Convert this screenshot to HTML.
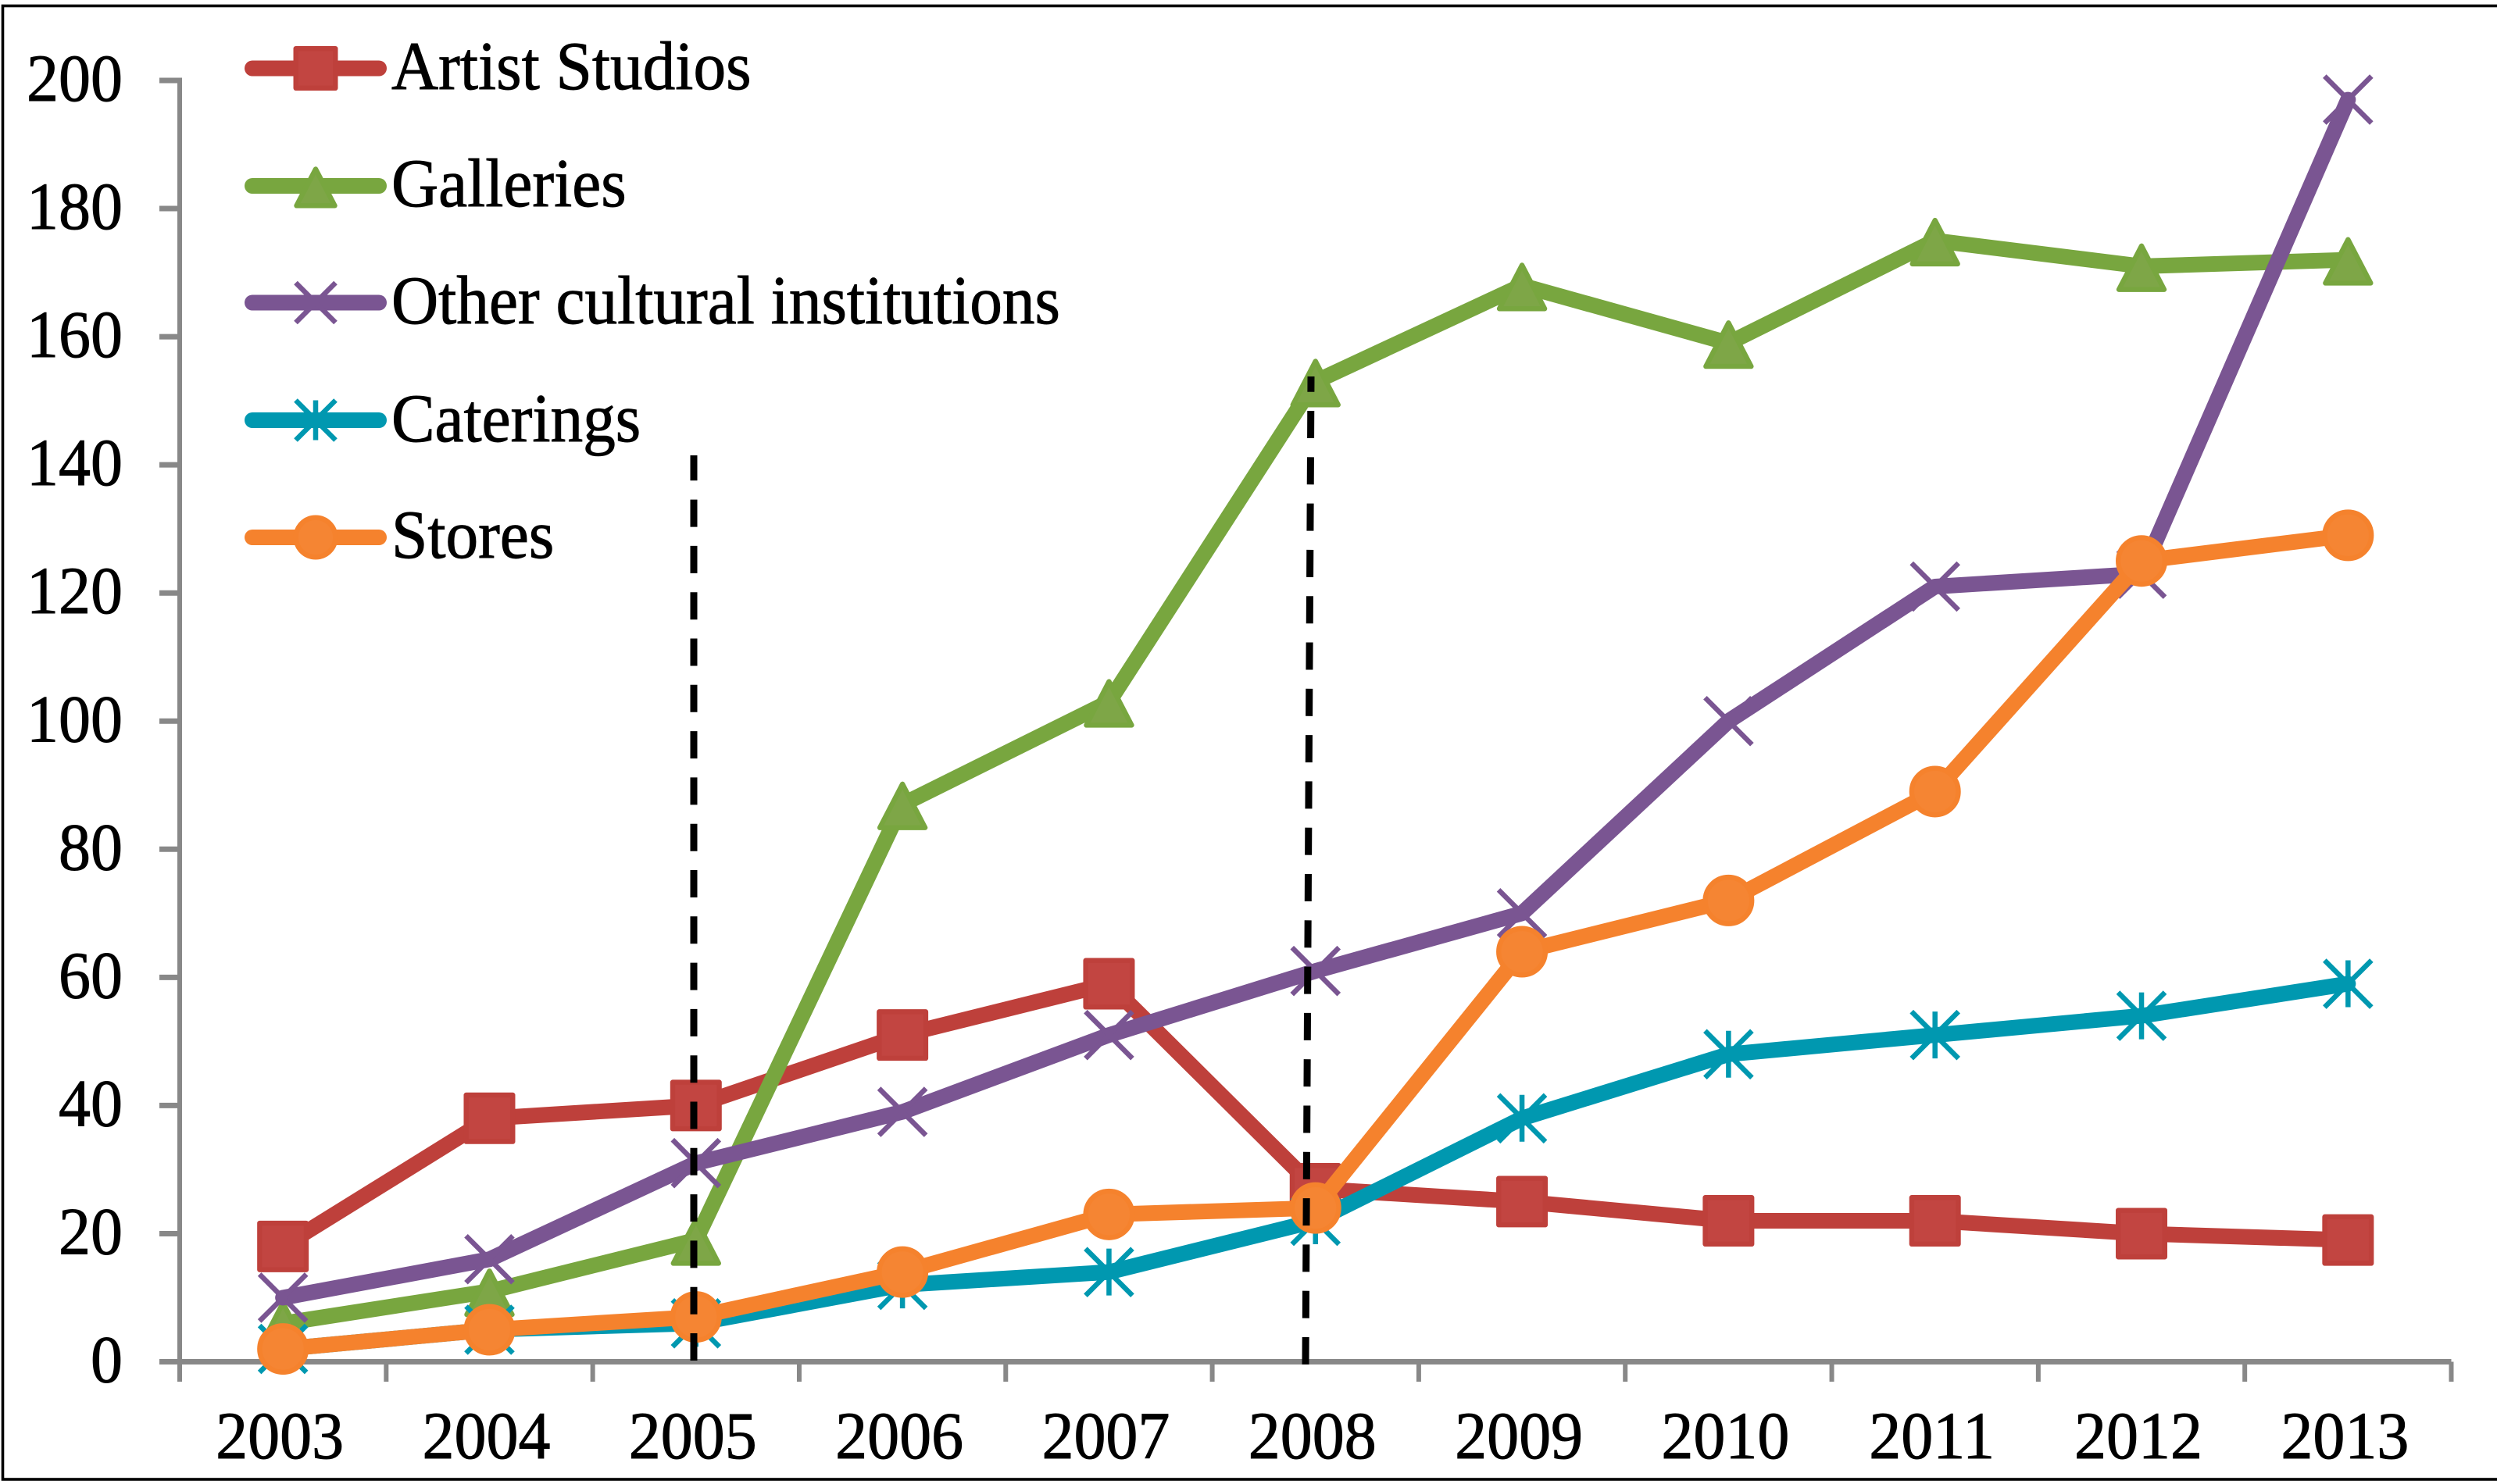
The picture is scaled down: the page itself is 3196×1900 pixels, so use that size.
<!DOCTYPE html>
<html lang="en">
<head>
<meta charset="utf-8">
<title>Cultural establishments 2003-2013</title>
<style>
html,body{margin:0;padding:0;background:#fff;width:3196px;height:1900px;overflow:hidden}
svg{display:block}
text{font-family:"Liberation Serif",serif;fill:#000;stroke:#000;stroke-width:0.9px}
</style>
</head>
<body>
<svg id="chart" xmlns="http://www.w3.org/2000/svg" width="3196" height="1900" viewBox="0 0 3196 1900">
  <rect x="0" y="0" width="3196" height="1900" fill="#fff"/>
  <rect x="3.5" y="7.5" width="3400" height="1886.5" fill="none" stroke="#000" stroke-width="3.6"/>
  <g id="axes"></g>
  <g id="series"></g>
  <g id="annotations">
    <line x1="888" y1="1742" x2="888" y2="583" stroke="#000" stroke-width="9" stroke-dasharray="35 24.3"/>
    <line x1="1671" y1="1747" x2="1678" y2="482" stroke="#000" stroke-width="9" stroke-dasharray="35 24.3"/>
  </g>
  <g id="legend">
    <g>
      <line x1="323" y1="87.5" x2="485" y2="87.5" stroke="#be403b" stroke-width="20" stroke-linecap="round"/>
      <g id="lm0"></g>
      <text transform="translate(501,114) scale(1,1.06)" font-size="83.3">Artist Studios</text>
    </g>
    <g>
      <line x1="323" y1="238" x2="485" y2="238" stroke="#78a63f" stroke-width="20" stroke-linecap="round"/>
      <g id="lm1"></g>
      <text transform="translate(501,264) scale(1,1.06)" font-size="83.3">Galleries</text>
    </g>
    <g>
      <line x1="323" y1="387.5" x2="485" y2="387.5" stroke="#7a5592" stroke-width="20" stroke-linecap="round"/>
      <g id="lm2"></g>
      <text transform="translate(501,414) scale(1,1.06)" font-size="83.3">Other cultural institutions</text>
    </g>
    <g>
      <line x1="323" y1="538" x2="485" y2="538" stroke="#0098b0" stroke-width="20" stroke-linecap="round"/>
      <g id="lm3"></g>
      <text transform="translate(501,565) scale(1,1.06)" font-size="83.3">Caterings</text>
    </g>
    <g>
      <line x1="323" y1="688" x2="485" y2="688" stroke="#f5822d" stroke-width="20" stroke-linecap="round"/>
      <g id="lm4"></g>
      <text transform="translate(501,714) scale(1,1.06)" font-size="83.3">Stores</text>
    </g>
  </g>
</svg>
<script>
var years = ['2003','2004','2005','2006','2007','2008','2009','2010','2011','2012','2013'];
var yTicks = [0,20,40,60,80,100,120,140,160,180,200];
var artistStudios = [18,38,40,51,59,27,25,22,22,20,19];
var galleries = [6,11,19,87,103,153,168,159,175,171,172];
var otherInstitutions = [10,16,31,39,51,61,70,100,121,123,197];
var caterings = [2,5,6,12,14,22,38,48,51,54,59];
var stores = [2,5,7,14,23,24,64,72,89,125,129];

var NS = 'http://www.w3.org/2000/svg';
var plotLeft = 230, plotRight = 3137.5, plotBottom = 1743.5, plotTop = 103, yMax = 200;
function xBand(){ return (plotRight - plotLeft) / years.length; }
function xScale(i){ return plotLeft + xBand() * (i + 0.5); }
function yScale(v){ return plotBottom - (plotBottom - plotTop) * v / yMax; }
function make(tag, attrs, parent){
  var el = document.createElementNS(NS, tag);
  for (var k in attrs) el.setAttribute(k, attrs[k]);
  parent.appendChild(el);
  return el;
}

function drawMarker(parent, kind, cx, cy, size, line, fill){
  var h = size / 2, inner = h - 3.2, el;
  if (kind === 'square') {
    el = make('rect', {x: cx - inner, y: cy - inner, width: inner * 2, height: inner * 2, fill: fill, stroke: line, 'stroke-width': 6.4, 'stroke-linejoin': 'round'}, parent);
    
    
  } else if (kind === 'triangle') {
    var pts = (cx) + ',' + (cy - h + 7) + ' ' + (cx + h - 4) + ',' + (cy + h - 3.2) + ' ' + (cx - h + 4) + ',' + (cy + h - 3.2);
    el = make('polygon', {points: pts, fill: fill, stroke: line, 'stroke-width': 6.4, 'stroke-linejoin': 'round'}, parent);
    
    
  } else if (kind === 'circle') {
    el = make('circle', {cx: cx, cy: cy, r: inner, fill: fill, stroke: line, 'stroke-width': 6.4}, parent);
    
    
  } else {
    var d = h - 3;
    var p = 'M' + (cx - d) + ' ' + (cy - d) + 'L' + (cx + d) + ' ' + (cy + d) + 'M' + (cx + d) + ' ' + (cy - d) + 'L' + (cx - d) + ' ' + (cy + d);
    if (kind === 'star') p += 'M' + cx + ' ' + (cy - d) + 'L' + cx + ' ' + (cy + d);
    el = make('path', {d: p, fill: 'none', stroke: line, 'stroke-width': 6.5}, parent);
    
    
  }
}

function drawAxes(){
  var g = document.getElementById('axes');
  var axisColor = '#888888';
  var yAxis = make('line', {x1: plotLeft, y1: plotTop - 3.5, x2: plotLeft, y2: plotBottom + 3.5, stroke: axisColor, 'stroke-width': 6}, g);
  
  
  var xAxis = make('line', {x1: 204, y1: plotBottom, x2: plotRight, y2: plotBottom, stroke: axisColor, 'stroke-width': 7}, g);
  
  
  yTicks.forEach(function(v){
    var y = yScale(v);
    var t = make('line', {x1: 204, y1: y, x2: plotLeft, y2: y, stroke: axisColor, 'stroke-width': 7}, g);
    
    
    var lbl = make('text', {transform: 'translate(157,' + (y + 26) + ') scale(1,1.05)', 'font-size': 82, 'text-anchor': 'end'}, g);
    lbl.textContent = String(v);
    
    
  });
  for (var i = 0; i <= years.length; i++) {
    var x = plotLeft + xBand() * i;
    var t2 = make('line', {x1: x, y1: plotBottom, x2: x, y2: 1769, stroke: axisColor, 'stroke-width': 6}, g);
    
    
  }
  years.forEach(function(label, i){
    var lbl = make('text', {transform: 'translate(' + (xScale(i) - 4) + ',1867) scale(1,1.05)', 'font-size': 82, 'text-anchor': 'middle'}, g);
    lbl.textContent = label;
    
    
  });
}

function drawSeries(values, name, kind, line, fill){
  var root = document.getElementById('series');
  var g = make('g', {}, root);
  
  
  var pts = values.map(function(v, i){ return xScale(i) + ',' + yScale(v); }).join(' ');
  var pl = make('polyline', {points: pts, fill: 'none', stroke: line, 'stroke-width': 20, 'stroke-linejoin': 'round', 'stroke-linecap': 'round'}, g);
  
  
  values.forEach(function(v, i){
    drawMarker(g, kind, xScale(i), yScale(v), 66, line, fill);
  });
}

drawAxes();
drawSeries(artistStudios, 'artist-studios', 'square', '#be403b', '#c24541');
drawSeries(galleries, 'galleries', 'triangle', '#78a63f', '#7ea647');
drawSeries(otherInstitutions, 'other-cultural-institutions', 'cross', '#7a5592', '#7a5592');
drawSeries(caterings, 'caterings', 'star', '#0098b0', '#0098b0');
drawSeries(stores, 'stores', 'circle', '#f5822d', '#f58533');

drawMarker(document.getElementById('lm0'), 'square', 404, 87.5, 57, '#be403b', '#c24541');
drawMarker(document.getElementById('lm1'), 'triangle', 404, 238, 57, '#78a63f', '#7ea647');
drawMarker(document.getElementById('lm2'), 'cross', 404, 387.5, 57, '#7a5592', '#7a5592');
drawMarker(document.getElementById('lm3'), 'star', 404, 538, 57, '#0098b0', '#0098b0');
drawMarker(document.getElementById('lm4'), 'circle', 404, 688, 57, '#f5822d', '#f58533');
</script>
</body>
</html>
